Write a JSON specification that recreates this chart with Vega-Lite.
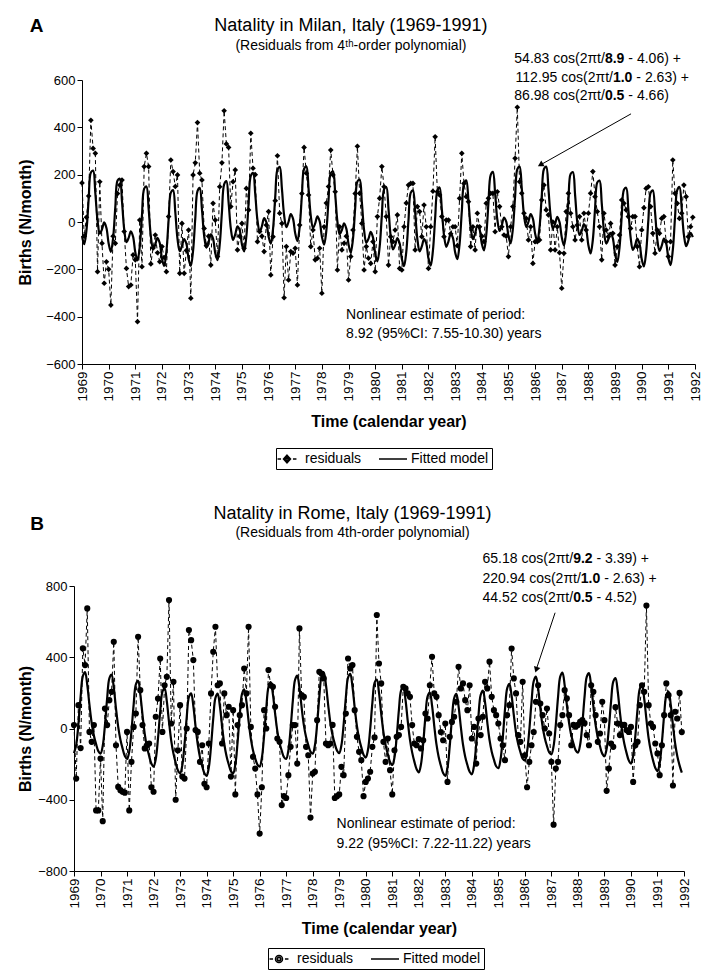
{
"$schema": "https://vega.github.io/schema/vega-lite/v6.json",
"padding": {"left": 17, "top": 17, "right": 5, "bottom": 5},
"spacing": 35,
"resolve": {"scale": {"shape": "independent"}, "legend": {"shape": "independent"}},
"config": {
 "font": "Liberation Sans",
 "view": {"stroke": null},
 "axis": {"grid": false, "domainColor": "black", "tickColor": "black", "labelColor": "black", "titleColor": "black", "labelFontSize": 13, "titleFontSize": 16, "titleFontWeight": "bold", "tickSize": 5, "labelPadding": 2, "labelOverlap": false},
 "axisX": {"labelOverlap": false},
 "axisQuantitative": {"labelOverlap": false},
 "legend": {"orient": "none", "direction": "horizontal", "strokeColor": "black", "strokeWidth": 1, "padding": 3, "labelFontSize": 14, "labelColor": "black", "symbolSize": 196, "symbolStrokeWidth": 1.5, "symbolStrokeColor": "black", "symbolOpacity": 1, "columnPadding": 14, "labelOffset": 10}
},
"datasets": {
"milan": [
{"t":1969,"r":165,"f":-59},{"t":1969.083,"r":-60,"f":-94},{"t":1969.167,"r":20,"f":-35},{"t":1969.25,"r":110,"f":96},{"t":1969.333,"r":430,"f":209},{"t":1969.417,"r":311,"f":217},{"t":1969.5,"r":290,"f":122},{"t":1969.583,"r":-210,"f":6},{"t":1969.667,"r":170,"f":-49},{"t":1969.75,"r":-90,"f":-31},{"t":1969.833,"r":-259,"f":-2},{"t":1969.917,"r":-168,"f":-25},
{"t":1970,"r":-200,"f":-91},{"t":1970.083,"r":-351,"f":-126},{"t":1970.167,"r":-60,"f":-68},{"t":1970.25,"r":-90,"f":63},{"t":1970.333,"r":120,"f":175},{"t":1970.417,"r":156,"f":183},{"t":1970.5,"r":177,"f":88},{"t":1970.583,"r":-40,"f":-30},{"t":1970.667,"r":-196,"f":-85},{"t":1970.75,"r":-273,"f":-67},{"t":1970.833,"r":-266,"f":-39},{"t":1970.917,"r":-139,"f":-62},
{"t":1971,"r":-160,"f":-128},{"t":1971.083,"r":-421,"f":-162},{"t":1971.167,"r":8,"f":-104},{"t":1971.25,"r":-189,"f":28},{"t":1971.333,"r":234,"f":141},{"t":1971.417,"r":290,"f":150},{"t":1971.5,"r":234,"f":56},{"t":1971.583,"r":-177,"f":-60},{"t":1971.667,"r":-110,"f":-114},{"t":1971.75,"r":-55,"f":-95},{"t":1971.833,"r":-130,"f":-67},{"t":1971.917,"r":-168,"f":-89},
{"t":1972,"r":-104,"f":-154},{"t":1972.083,"r":-150,"f":-186},{"t":1972.167,"r":-210,"f":-125},{"t":1972.25,"r":23,"f":9},{"t":1972.333,"r":262,"f":124},{"t":1972.417,"r":213,"f":135},{"t":1972.5,"r":150,"f":43},{"t":1972.583,"r":199,"f":-71},{"t":1972.667,"r":-217,"f":-123},{"t":1972.75,"r":-6,"f":-102},{"t":1972.833,"r":-217,"f":-72},{"t":1972.917,"r":-120,"f":-92},
{"t":1973,"r":-34,"f":-155},{"t":1973.083,"r":-322,"f":-185},{"t":1973.167,"r":199,"f":-122},{"t":1973.25,"r":250,"f":14},{"t":1973.333,"r":420,"f":130},{"t":1973.417,"r":206,"f":144},{"t":1973.5,"r":177,"f":54},{"t":1973.583,"r":-27,"f":-58},{"t":1973.667,"r":-100,"f":-108},{"t":1973.75,"r":-60,"f":-85},{"t":1973.833,"r":-182,"f":-52},{"t":1973.917,"r":79,"f":-70},
{"t":1974,"r":8,"f":-132},{"t":1974.083,"r":-146,"f":-161},{"t":1974.167,"r":149,"f":-96},{"t":1974.25,"r":250,"f":41},{"t":1974.333,"r":470,"f":159},{"t":1974.417,"r":330,"f":173},{"t":1974.5,"r":315,"f":84},{"t":1974.583,"r":65,"f":-27},{"t":1974.667,"r":170,"f":-76},{"t":1974.75,"r":220,"f":-52},{"t":1974.833,"r":-118,"f":-18},{"t":1974.917,"r":-60,"f":-34},
{"t":1975,"r":-6,"f":-94},{"t":1975.083,"r":-111,"f":-124},{"t":1975.167,"r":142,"f":-60},{"t":1975.25,"r":51,"f":77},{"t":1975.333,"r":375,"f":195},{"t":1975.417,"r":227,"f":208},{"t":1975.5,"r":200,"f":119},{"t":1975.583,"r":-83,"f":8},{"t":1975.667,"r":-40,"f":-41},{"t":1975.75,"r":-60,"f":-18},{"t":1975.833,"r":-125,"f":16},{"t":1975.917,"r":-13,"f":-1},
{"t":1976,"r":44,"f":-61},{"t":1976.083,"r":-224,"f":-92},{"t":1976.167,"r":-62,"f":-30},{"t":1976.25,"r":90,"f":105},{"t":1976.333,"r":280,"f":221},{"t":1976.417,"r":37,"f":233},{"t":1976.5,"r":-6,"f":142},{"t":1976.583,"r":-320,"f":29},{"t":1976.667,"r":-104,"f":-22},{"t":1976.75,"r":-245,"f":1},{"t":1976.833,"r":-125,"f":33},{"t":1976.917,"r":-132,"f":14},
{"t":1977,"r":-111,"f":-48},{"t":1977.083,"r":-266,"f":-81},{"t":1977.167,"r":-13,"f":-21},{"t":1977.25,"r":120,"f":111},{"t":1977.333,"r":315,"f":225},{"t":1977.417,"r":206,"f":235},{"t":1977.5,"r":114,"f":142},{"t":1977.583,"r":-104,"f":27},{"t":1977.667,"r":-34,"f":-26},{"t":1977.75,"r":-160,"f":-6},{"t":1977.833,"r":-153,"f":24},{"t":1977.917,"r":-111,"f":3},
{"t":1978,"r":-301,"f":-61},{"t":1978.083,"r":-20,"f":-96},{"t":1978.167,"r":80,"f":-38},{"t":1978.25,"r":150,"f":93},{"t":1978.333,"r":304,"f":206},{"t":1978.417,"r":199,"f":214},{"t":1978.5,"r":128,"f":119},{"t":1978.583,"r":-203,"f":2},{"t":1978.667,"r":-20,"f":-52},{"t":1978.75,"r":-118,"f":-34},{"t":1978.833,"r":-90,"f":-6},{"t":1978.917,"r":-60,"f":-28},
{"t":1979,"r":-245,"f":-94},{"t":1979.083,"r":-146,"f":-129},{"t":1979.167,"r":-34,"f":-72},{"t":1979.25,"r":120,"f":59},{"t":1979.333,"r":320,"f":171},{"t":1979.417,"r":121,"f":179},{"t":1979.5,"r":-6,"f":84},{"t":1979.583,"r":-203,"f":-33},{"t":1979.667,"r":-104,"f":-88},{"t":1979.75,"r":-153,"f":-70},{"t":1979.833,"r":-175,"f":-42},{"t":1979.917,"r":-83,"f":-65},
{"t":1980,"r":-210,"f":-132},{"t":1980.083,"r":23,"f":-166},{"t":1980.167,"r":100,"f":-106},{"t":1980.25,"r":234,"f":26},{"t":1980.333,"r":149,"f":138},{"t":1980.417,"r":23,"f":148},{"t":1980.5,"r":-182,"f":54},{"t":1980.583,"r":-62,"f":-62},{"t":1980.667,"r":-83,"f":-116},{"t":1980.75,"r":-34,"f":-97},{"t":1980.833,"r":30,"f":-68},{"t":1980.917,"r":-196,"f":-90},
{"t":1981,"r":-203,"f":-155},{"t":1981.083,"r":-20,"f":-187},{"t":1981.167,"r":80,"f":-126},{"t":1981.25,"r":156,"f":8},{"t":1981.333,"r":163,"f":123},{"t":1981.417,"r":163,"f":134},{"t":1981.5,"r":-118,"f":42},{"t":1981.583,"r":65,"f":-72},{"t":1981.667,"r":44,"f":-124},{"t":1981.75,"r":-62,"f":-103},{"t":1981.833,"r":72,"f":-72},{"t":1981.917,"r":-20,"f":-91},
{"t":1982,"r":-196,"f":-154},{"t":1982.083,"r":-20,"f":-184},{"t":1982.167,"r":130,"f":-121},{"t":1982.25,"r":360,"f":16},{"t":1982.333,"r":128,"f":132},{"t":1982.417,"r":114,"f":146},{"t":1982.5,"r":23,"f":56},{"t":1982.583,"r":-62,"f":-56},{"t":1982.667,"r":8,"f":-105},{"t":1982.75,"r":8,"f":-82},{"t":1982.833,"r":-50,"f":-49},{"t":1982.917,"r":-20,"f":-67},
{"t":1983,"r":-20,"f":-128},{"t":1983.083,"r":-100,"f":-157},{"t":1983.167,"r":100,"f":-93},{"t":1983.25,"r":290,"f":44},{"t":1983.333,"r":163,"f":162},{"t":1983.417,"r":107,"f":176},{"t":1983.5,"r":86,"f":88},{"t":1983.583,"r":-104,"f":-23},{"t":1983.667,"r":-20,"f":-72},{"t":1983.75,"r":-118,"f":-48},{"t":1983.833,"r":37,"f":-14},{"t":1983.917,"r":-20,"f":-31},
{"t":1984,"r":-60,"f":-91},{"t":1984.083,"r":-83,"f":-120},{"t":1984.167,"r":79,"f":-56},{"t":1984.25,"r":100,"f":80},{"t":1984.333,"r":121,"f":198},{"t":1984.417,"r":121,"f":212},{"t":1984.5,"r":-41,"f":122},{"t":1984.583,"r":128,"f":11},{"t":1984.667,"r":65,"f":-38},{"t":1984.75,"r":-20,"f":-15},{"t":1984.833,"r":-55,"f":19},{"t":1984.917,"r":-60,"f":2},
{"t":1985,"r":-146,"f":-59},{"t":1985.083,"r":-20,"f":-90},{"t":1985.167,"r":65,"f":-28},{"t":1985.25,"r":269,"f":107},{"t":1985.333,"r":485,"f":223},{"t":1985.417,"r":170,"f":234},{"t":1985.5,"r":121,"f":143},{"t":1985.583,"r":37,"f":30},{"t":1985.667,"r":15,"f":-21},{"t":1985.75,"r":-76,"f":1},{"t":1985.833,"r":-20,"f":33},{"t":1985.917,"r":-175,"f":14},
{"t":1986,"r":-83,"f":-48},{"t":1986.083,"r":-83,"f":-82},{"t":1986.167,"r":-76,"f":-22},{"t":1986.25,"r":93,"f":111},{"t":1986.333,"r":156,"f":224},{"t":1986.417,"r":51,"f":234},{"t":1986.5,"r":30,"f":141},{"t":1986.583,"r":-118,"f":26},{"t":1986.667,"r":0,"f":-27},{"t":1986.75,"r":-118,"f":-8},{"t":1986.833,"r":-20,"f":22},{"t":1986.917,"r":-130,"f":0},
{"t":1987,"r":-280,"f":-64},{"t":1987.083,"r":-132,"f":-99},{"t":1987.167,"r":44,"f":-41},{"t":1987.25,"r":121,"f":90},{"t":1987.333,"r":37,"f":203},{"t":1987.417,"r":-20,"f":211},{"t":1987.5,"r":-76,"f":116},{"t":1987.583,"r":-13,"f":-1},{"t":1987.667,"r":23,"f":-55},{"t":1987.75,"r":-76,"f":-37},{"t":1987.833,"r":37,"f":-9},{"t":1987.917,"r":-34,"f":-32},
{"t":1988,"r":37,"f":-98},{"t":1988.083,"r":121,"f":-133},{"t":1988.167,"r":213,"f":-75},{"t":1988.25,"r":107,"f":56},{"t":1988.333,"r":44,"f":167},{"t":1988.417,"r":-20,"f":175},{"t":1988.5,"r":-160,"f":81},{"t":1988.583,"r":37,"f":-36},{"t":1988.667,"r":-34,"f":-91},{"t":1988.75,"r":-62,"f":-73},{"t":1988.833,"r":-6,"f":-46},{"t":1988.917,"r":-48,"f":-69},
{"t":1989,"r":-182,"f":-135},{"t":1989.083,"r":-104,"f":-169},{"t":1989.167,"r":-55,"f":-109},{"t":1989.25,"r":93,"f":23},{"t":1989.333,"r":79,"f":136},{"t":1989.417,"r":51,"f":145},{"t":1989.5,"r":23,"f":51},{"t":1989.583,"r":-27,"f":-64},{"t":1989.667,"r":23,"f":-118},{"t":1989.75,"r":23,"f":-99},{"t":1989.833,"r":-104,"f":-70},{"t":1989.917,"r":-189,"f":-91},
{"t":1990,"r":-34,"f":-156},{"t":1990.083,"r":60,"f":-188},{"t":1990.167,"r":142,"f":-127},{"t":1990.25,"r":149,"f":8},{"t":1990.333,"r":65,"f":123},{"t":1990.417,"r":-48,"f":134},{"t":1990.5,"r":-132,"f":43},{"t":1990.583,"r":-34,"f":-71},{"t":1990.667,"r":-48,"f":-122},{"t":1990.75,"r":15,"f":-101},{"t":1990.833,"r":23,"f":-70},{"t":1990.917,"r":-83,"f":-90},
{"t":1991,"r":-146,"f":-152},{"t":1991.083,"r":-83,"f":-182},{"t":1991.167,"r":262,"f":-119},{"t":1991.25,"r":121,"f":18},{"t":1991.333,"r":79,"f":135},{"t":1991.417,"r":15,"f":148},{"t":1991.5,"r":37,"f":59},{"t":1991.583,"r":156,"f":-53},{"t":1991.667,"r":107,"f":-102},{"t":1991.75,"r":-62,"f":-79},{"t":1991.833,"r":-20,"f":-46},{"t":1991.917,"r":20,"f":-64}
],
"rome": [
{"t":1969,"r":19,"f":-138},{"t":1969.083,"r":-281,"f":-92},{"t":1969.167,"r":131,"f":26},{"t":1969.25,"r":-110,"f":179},{"t":1969.333,"r":450,"f":294},{"t":1969.417,"r":356,"f":317},{"t":1969.5,"r":674,"f":245},{"t":1969.583,"r":-19,"f":132},{"t":1969.667,"r":-75,"f":30},{"t":1969.75,"r":19,"f":-39},{"t":1969.833,"r":-460,"f":-88},{"t":1969.917,"r":-460,"f":-127},
{"t":1970,"r":-169,"f":-141},{"t":1970.083,"r":-520,"f":-98},{"t":1970.167,"r":112,"f":19},{"t":1970.25,"r":19,"f":169},{"t":1970.333,"r":159,"f":282},{"t":1970.417,"r":206,"f":302},{"t":1970.5,"r":487,"f":229},{"t":1970.583,"r":-94,"f":113},{"t":1970.667,"r":-328,"f":9},{"t":1970.75,"r":-346,"f":-63},{"t":1970.833,"r":-355,"f":-113},{"t":1970.917,"r":-360,"f":-155},
{"t":1971,"r":-19,"f":-171},{"t":1971.083,"r":-460,"f":-129},{"t":1971.167,"r":-187,"f":-13},{"t":1971.25,"r":9,"f":136},{"t":1971.333,"r":84,"f":248},{"t":1971.417,"r":515,"f":267},{"t":1971.5,"r":215,"f":192},{"t":1971.583,"r":19,"f":76},{"t":1971.667,"r":-112,"f":-30},{"t":1971.75,"r":-94,"f":-103},{"t":1971.833,"r":-84,"f":-154},{"t":1971.917,"r":-330,"f":-197},
{"t":1972,"r":-355,"f":-214},{"t":1972.083,"r":66,"f":-171},{"t":1972.167,"r":168,"f":-56},{"t":1972.25,"r":393,"f":94},{"t":1972.333,"r":-19,"f":206},{"t":1972.417,"r":243,"f":226},{"t":1972.5,"r":290,"f":152},{"t":1972.583,"r":721,"f":36},{"t":1972.667,"r":28,"f":-69},{"t":1972.75,"r":262,"f":-141},{"t":1972.833,"r":-400,"f":-192},{"t":1972.917,"r":-122,"f":-235},
{"t":1973,"r":131,"f":-252},{"t":1973.083,"r":-270,"f":-207},{"t":1973.167,"r":-281,"f":-89},{"t":1973.25,"r":0,"f":63},{"t":1973.333,"r":553,"f":177},{"t":1973.417,"r":496,"f":198},{"t":1973.5,"r":384,"f":126},{"t":1973.583,"r":-9,"f":12},{"t":1973.667,"r":-19,"f":-91},{"t":1973.75,"r":-187,"f":-162},{"t":1973.833,"r":-94,"f":-211},{"t":1973.917,"r":-310,"f":-251},
{"t":1974,"r":-330,"f":-266},{"t":1974.083,"r":-84,"f":-219},{"t":1974.167,"r":197,"f":-99},{"t":1974.25,"r":431,"f":55},{"t":1974.333,"r":571,"f":172},{"t":1974.417,"r":243,"f":196},{"t":1974.5,"r":253,"f":126},{"t":1974.583,"r":-84,"f":14},{"t":1974.667,"r":197,"f":-87},{"t":1974.75,"r":75,"f":-154},{"t":1974.833,"r":122,"f":-201},{"t":1974.917,"r":-270,"f":-239},
{"t":1975,"r":103,"f":-252},{"t":1975.083,"r":-370,"f":-202},{"t":1975.167,"r":19,"f":-80},{"t":1975.25,"r":75,"f":76},{"t":1975.333,"r":131,"f":194},{"t":1975.417,"r":337,"f":220},{"t":1975.5,"r":197,"f":152},{"t":1975.583,"r":571,"f":42},{"t":1975.667,"r":9,"f":-57},{"t":1975.75,"r":-159,"f":-123},{"t":1975.833,"r":-225,"f":-168},{"t":1975.917,"r":-370,"f":-203},
{"t":1976,"r":-590,"f":-214},{"t":1976.083,"r":-330,"f":-165},{"t":1976.167,"r":103,"f":-42},{"t":1976.25,"r":0,"f":115},{"t":1976.333,"r":328,"f":233},{"t":1976.417,"r":243,"f":260},{"t":1976.5,"r":234,"f":192},{"t":1976.583,"r":122,"f":83},{"t":1976.667,"r":-56,"f":-15},{"t":1976.75,"r":-75,"f":-81},{"t":1976.833,"r":-430,"f":-125},{"t":1976.917,"r":-380,"f":-161},
{"t":1977,"r":-390,"f":-171},{"t":1977.083,"r":-262,"f":-123},{"t":1977.167,"r":-103,"f":-1},{"t":1977.25,"r":19,"f":154},{"t":1977.333,"r":19,"f":272},{"t":1977.417,"r":-197,"f":297},{"t":1977.5,"r":562,"f":229},{"t":1977.583,"r":187,"f":118},{"t":1977.667,"r":178,"f":19},{"t":1977.75,"r":-103,"f":-48},{"t":1977.833,"r":-150,"f":-93},{"t":1977.917,"r":-500,"f":-130},
{"t":1978,"r":-253,"f":-141},{"t":1978.083,"r":-243,"f":-95},{"t":1978.167,"r":47,"f":24},{"t":1978.25,"r":318,"f":178},{"t":1978.333,"r":309,"f":293},{"t":1978.417,"r":281,"f":316},{"t":1978.5,"r":-84,"f":245},{"t":1978.583,"r":-94,"f":133},{"t":1978.667,"r":-84,"f":31},{"t":1978.75,"r":20,"f":-38},{"t":1978.833,"r":-390,"f":-86},{"t":1978.917,"r":-380,"f":-124},
{"t":1979,"r":-370,"f":-138},{"t":1979.083,"r":-215,"f":-94},{"t":1979.167,"r":-262,"f":23},{"t":1979.25,"r":84,"f":174},{"t":1979.333,"r":393,"f":286},{"t":1979.417,"r":337,"f":307},{"t":1979.5,"r":356,"f":234},{"t":1979.583,"r":103,"f":119},{"t":1979.667,"r":-47,"f":15},{"t":1979.75,"r":-131,"f":-56},{"t":1979.833,"r":-178,"f":-106},{"t":1979.917,"r":-380,"f":-147},
{"t":1980,"r":-300,"f":-163},{"t":1980.083,"r":-281,"f":-121},{"t":1980.167,"r":-243,"f":-5},{"t":1980.25,"r":-103,"f":144},{"t":1980.333,"r":-50,"f":256},{"t":1980.417,"r":637,"f":275},{"t":1980.5,"r":365,"f":201},{"t":1980.583,"r":253,"f":84},{"t":1980.667,"r":-75,"f":-21},{"t":1980.75,"r":-187,"f":-94},{"t":1980.833,"r":-56,"f":-145},{"t":1980.917,"r":-234,"f":-188},
{"t":1981,"r":-370,"f":-205},{"t":1981.083,"r":-122,"f":-163},{"t":1981.167,"r":-47,"f":-47},{"t":1981.25,"r":-37,"f":103},{"t":1981.333,"r":9,"f":214},{"t":1981.417,"r":234,"f":234},{"t":1981.5,"r":225,"f":160},{"t":1981.583,"r":197,"f":43},{"t":1981.667,"r":178,"f":-62},{"t":1981.75,"r":19,"f":-134},{"t":1981.833,"r":-84,"f":-186},{"t":1981.917,"r":-94,"f":-228},
{"t":1982,"r":-60,"f":-246},{"t":1982.083,"r":-112,"f":-201},{"t":1982.167,"r":-66,"f":-84},{"t":1982.25,"r":84,"f":67},{"t":1982.333,"r":56,"f":181},{"t":1982.417,"r":243,"f":202},{"t":1982.5,"r":403,"f":129},{"t":1982.583,"r":197,"f":15},{"t":1982.667,"r":178,"f":-89},{"t":1982.75,"r":75,"f":-160},{"t":1982.833,"r":-20,"f":-209},{"t":1982.917,"r":-66,"f":-250},
{"t":1983,"r":28,"f":-266},{"t":1983.083,"r":-300,"f":-219},{"t":1983.167,"r":-47,"f":-99},{"t":1983.25,"r":37,"f":55},{"t":1983.333,"r":66,"f":170},{"t":1983.417,"r":150,"f":194},{"t":1983.5,"r":346,"f":124},{"t":1983.583,"r":225,"f":12},{"t":1983.667,"r":253,"f":-90},{"t":1983.75,"r":159,"f":-158},{"t":1983.833,"r":103,"f":-205},{"t":1983.917,"r":243,"f":-243},
{"t":1984,"r":-56,"f":-257},{"t":1984.083,"r":9,"f":-208},{"t":1984.167,"r":-197,"f":-86},{"t":1984.25,"r":56,"f":70},{"t":1984.333,"r":-37,"f":188},{"t":1984.417,"r":66,"f":213},{"t":1984.5,"r":262,"f":145},{"t":1984.583,"r":225,"f":35},{"t":1984.667,"r":375,"f":-64},{"t":1984.75,"r":178,"f":-130},{"t":1984.833,"r":103,"f":-175},{"t":1984.917,"r":75,"f":-212},
{"t":1985,"r":28,"f":-223},{"t":1985.083,"r":-56,"f":-173},{"t":1985.167,"r":-94,"f":-51},{"t":1985.25,"r":-178,"f":106},{"t":1985.333,"r":75,"f":225},{"t":1985.417,"r":131,"f":251},{"t":1985.5,"r":449,"f":184},{"t":1985.583,"r":281,"f":75},{"t":1985.667,"r":197,"f":-24},{"t":1985.75,"r":-37,"f":-89},{"t":1985.833,"r":-75,"f":-133},{"t":1985.917,"r":262,"f":-169},
{"t":1986,"r":-150,"f":-179},{"t":1986.083,"r":-330,"f":-130},{"t":1986.167,"r":-187,"f":-9},{"t":1986.25,"r":-94,"f":147},{"t":1986.333,"r":-20,"f":265},{"t":1986.417,"r":150,"f":291},{"t":1986.5,"r":243,"f":223},{"t":1986.583,"r":140,"f":113},{"t":1986.667,"r":75,"f":13},{"t":1986.75,"r":0,"f":-53},{"t":1986.833,"r":112,"f":-98},{"t":1986.917,"r":-28,"f":-134},
{"t":1987,"r":-187,"f":-145},{"t":1987.083,"r":-540,"f":-99},{"t":1987.167,"r":-225,"f":21},{"t":1987.25,"r":-187,"f":175},{"t":1987.333,"r":19,"f":291},{"t":1987.417,"r":75,"f":314},{"t":1987.5,"r":215,"f":244},{"t":1987.583,"r":169,"f":132},{"t":1987.667,"r":75,"f":31},{"t":1987.75,"r":-94,"f":-38},{"t":1987.833,"r":20,"f":-85},{"t":1987.917,"r":10,"f":-123},
{"t":1988,"r":20,"f":-136},{"t":1988.083,"r":37,"f":-92},{"t":1988.167,"r":47,"f":25},{"t":1988.25,"r":30,"f":177},{"t":1988.333,"r":-37,"f":290},{"t":1988.417,"r":-94,"f":311},{"t":1988.5,"r":243,"f":239},{"t":1988.583,"r":206,"f":124},{"t":1988.667,"r":75,"f":20},{"t":1988.75,"r":-75,"f":-51},{"t":1988.833,"r":-28,"f":-100},{"t":1988.917,"r":150,"f":-141},
{"t":1989,"r":47,"f":-156},{"t":1989.083,"r":-350,"f":-114},{"t":1989.167,"r":-225,"f":2},{"t":1989.25,"r":-84,"f":151},{"t":1989.333,"r":-103,"f":263},{"t":1989.417,"r":120,"f":283},{"t":1989.5,"r":28,"f":209},{"t":1989.583,"r":-37,"f":92},{"t":1989.667,"r":20,"f":-13},{"t":1989.75,"r":20,"f":-86},{"t":1989.833,"r":-9,"f":-137},{"t":1989.917,"r":-19,"f":-179},
{"t":1990,"r":9,"f":-197},{"t":1990.083,"r":-300,"f":-154},{"t":1990.167,"r":-94,"f":-39},{"t":1990.25,"r":-75,"f":111},{"t":1990.333,"r":131,"f":223},{"t":1990.417,"r":243,"f":242},{"t":1990.5,"r":206,"f":167},{"t":1990.583,"r":690,"f":51},{"t":1990.667,"r":131,"f":-55},{"t":1990.75,"r":28,"f":-127},{"t":1990.833,"r":9,"f":-179},{"t":1990.917,"r":-84,"f":-221},
{"t":1991,"r":-140,"f":-239},{"t":1991.083,"r":-262,"f":-195},{"t":1991.167,"r":-94,"f":-78},{"t":1991.25,"r":75,"f":73},{"t":1991.333,"r":253,"f":186},{"t":1991.417,"r":187,"f":207},{"t":1991.5,"r":75,"f":134},{"t":1991.583,"r":-320,"f":19},{"t":1991.667,"r":94,"f":-85},{"t":1991.75,"r":56,"f":-157},{"t":1991.833,"r":200,"f":-207},{"t":1991.917,"r":-20,"f":-248}
]
},
"vconcat": [
{
 "width": 613, "height": 284,
 "encoding": {"x": {"field": "t", "type": "quantitative", "scale": {"domain": [1969, 1992], "nice": false, "zero": false},
   "axis": {"title": "Time (calendar year)", "values": [1969,1970,1971,1972,1973,1974,1975,1976,1977,1978,1979,1980,1981,1982,1983,1984,1985,1986,1987,1988,1989,1990,1991,1992], "format": "d", "labelAngle": -90, "labelFontSize": 13.5, "titlePadding": 12, "labelOverlap": false, "labelFlush": false}}},
 "layer": [
  {"data": {"name": "milan"},
   "mark": {"type": "line", "color": "black", "strokeWidth": 1, "strokeDash": [4, 3]},
   "encoding": {"y": {"field": "r", "type": "quantitative", "scale": {"domain": [-600, 600], "nice": false},
          "axis": {"title": "Births (N/month)", "values": [-600,-400,-200,0,200,400,600], "titlePadding": 12}}}},
  {"data": {"name": "milan"},
   "mark": {"type": "point", "shape": "diamond", "filled": true, "color": "black", "size": 32, "opacity": 1},
   "encoding": {"y": {"field": "r", "type": "quantitative"}}},
  {"data": {"name": "milan"},
   "mark": {"type": "line", "color": "black", "strokeWidth": 2.2, "interpolate": "catmull-rom"},
   "encoding": {"y": {"field": "f", "type": "quantitative"}}},
  {"data": {"values": [{"t": 1979.09, "v": 828, "s": "Natality in Milan, Italy (1969-1991)"}]},
   "mark": {"type": "text", "align": "center", "baseline": "middle", "fontSize": 18, "color": "black"},
   "encoding": {"y": {"field": "v", "type": "quantitative"}, "text": {"field": "s"}}},
  {"data": {"values": [{"t": 1979.09, "v": 744, "s": "(Residuals from 4ᵗʰ-order polynomial)"}]},
   "mark": {"type": "text", "align": "center", "baseline": "middle", "fontSize": 14, "color": "black"},
   "encoding": {"y": {"field": "v", "type": "quantitative"}, "text": {"field": "s"}}},
  {"data": {"values": [
     {"t": 1988.62, "v": 689, "s": "54.83 cos(2πt/"},
     {"t": 1988.92, "v": 608, "s": "112.95 cos(2πt/"},
     {"t": 1988.62, "v": 532, "s": "86.98 cos(2πt/"}]},
   "mark": {"type": "text", "align": "right", "baseline": "middle", "fontSize": 14, "color": "black"},
   "encoding": {"y": {"field": "v", "type": "quantitative"}, "text": {"field": "s"}}},
  {"data": {"values": [
     {"t": 1988.62, "v": 689, "s": "8.9"},
     {"t": 1988.92, "v": 608, "s": "1.0"},
     {"t": 1988.62, "v": 532, "s": "0.5"}]},
   "mark": {"type": "text", "align": "left", "baseline": "middle", "fontSize": 14, "fontWeight": "bold", "color": "black"},
   "encoding": {"y": {"field": "v", "type": "quantitative"}, "text": {"field": "s"}}},
  {"data": {"values": [
     {"t": 1989.5, "v": 689, "s": "- 4.06) +"},
     {"t": 1989.8, "v": 608, "s": "- 2.63) +"},
     {"t": 1989.5, "v": 532, "s": "- 4.66)"},
     {"t": 1978.91, "v": -394, "s": "Nonlinear estimate of period:"},
     {"t": 1978.91, "v": -474, "s": "8.92 (95%CI: 7.55-10.30) years"}]},
   "mark": {"type": "text", "align": "left", "baseline": "middle", "fontSize": 14, "color": "black"},
   "encoding": {"y": {"field": "v", "type": "quantitative"}, "text": {"field": "s"}}},
  {"data": {"values": [{"t": 1967.04, "v": 828, "s": "A"}]},
   "mark": {"type": "text", "align": "left", "baseline": "middle", "fontSize": 19, "fontWeight": "bold", "color": "black"},
   "encoding": {"y": {"field": "v", "type": "quantitative"}, "text": {"field": "s"}}},
  {"data": {"values": [{"t": 1989.6, "v": 457, "t2": 1986.15, "v2": 238}]},
   "mark": {"type": "rule", "color": "black", "strokeWidth": 1},
   "encoding": {"y": {"field": "v", "type": "quantitative"}, "x2": {"field": "t2"}, "y2": {"field": "v2"}}},
  {"data": {"values": [{"t": 1986.2, "v": 242}]},
   "mark": {"type": "point", "shape": "triangle-up", "filled": true, "color": "black", "size": 45, "angle": 240.5, "opacity": 1},
   "encoding": {"y": {"field": "v", "type": "quantitative"}}},
  {"data": {"values": [{"series": "residuals"}, {"series": "Fitted model"}]},
   "mark": {"type": "point", "filled": false, "color": "black", "strokeWidth": 1.5, "opacity": 0},
   "encoding": {"shape": {"field": "series", "type": "nominal",
     "scale": {"domain": ["residuals", "Fitted model"], "range": ["M-1.35,0H-0.85M0.85,0H1.35M0,-0.55L0.5,0L0,0.55L-0.5,0ZM0,-0.3L0.27,0L0,0.3L-0.27,0ZM-0.1,0H0.1", "M-2,0H2"]},
     "legend": {"title": null, "legendX": 194, "legendY": 368, "symbolStrokeColor": "black", "symbolStrokeWidth": 1.5}}}}
 ]
},
{
 "width": 610, "height": 285,
 "encoding": {"x": {"field": "t", "type": "quantitative", "scale": {"domain": [1969, 1992], "nice": false, "zero": false, "range": [-8, 602]},
   "axis": {"title": "Time (calendar year)", "values": [1969,1970,1971,1972,1973,1974,1975,1976,1977,1978,1979,1980,1981,1982,1983,1984,1985,1986,1987,1988,1989,1990,1991,1992], "format": "d", "labelAngle": -90, "labelFontSize": 13.5, "titlePadding": 12, "labelOverlap": false, "labelFlush": false}}},
 "layer": [
  {"data": {"name": "rome"},
   "mark": {"type": "line", "color": "black", "strokeWidth": 1, "strokeDash": [4, 3]},
   "encoding": {"y": {"field": "r", "type": "quantitative", "scale": {"domain": [-800, 800], "nice": false},
          "axis": {"title": "Births (N/month)", "values": [-800,-600,-400,-200,0,200,400,600,800], "titlePadding": 4, "offset": 8}}}},
  {"data": {"name": "rome"},
   "mark": {"type": "point", "shape": "circle", "filled": true, "color": "black", "size": 38, "opacity": 1},
   "encoding": {"y": {"field": "r", "type": "quantitative"}}},
  {"data": {"name": "rome"},
   "mark": {"type": "line", "color": "black", "strokeWidth": 2.2, "interpolate": "catmull-rom"},
   "encoding": {"y": {"field": "f", "type": "quantitative"}}},
  {"data": {"values": [{"t": 1979.5, "v": 1204, "s": "Natality in Rome, Italy (1969-1991)"}]},
   "mark": {"type": "text", "align": "center", "baseline": "middle", "fontSize": 18, "color": "black"},
   "encoding": {"y": {"field": "v", "type": "quantitative"}, "text": {"field": "s"}}},
  {"data": {"values": [{"t": 1979.5, "v": 1098, "s": "(Residuals from 4th-order polynomial)"}]},
   "mark": {"type": "text", "align": "center", "baseline": "middle", "fontSize": 14, "color": "black"},
   "encoding": {"y": {"field": "v", "type": "quantitative"}, "text": {"field": "s"}}},
  {"data": {"values": [
     {"t": 1987.82, "v": 952, "s": "65.18 cos(2πt/"},
     {"t": 1988.11, "v": 839, "s": "220.94 cos(2πt/"},
     {"t": 1987.82, "v": 733, "s": "44.52 cos(2πt/"}]},
   "mark": {"type": "text", "align": "right", "baseline": "middle", "fontSize": 14, "color": "black"},
   "encoding": {"y": {"field": "v", "type": "quantitative"}, "text": {"field": "s"}}},
  {"data": {"values": [
     {"t": 1987.82, "v": 952, "s": "9.2"},
     {"t": 1988.11, "v": 839, "s": "1.0"},
     {"t": 1987.82, "v": 733, "s": "0.5"}]},
   "mark": {"type": "text", "align": "left", "baseline": "middle", "fontSize": 14, "fontWeight": "bold", "color": "black"},
   "encoding": {"y": {"field": "v", "type": "quantitative"}, "text": {"field": "s"}}},
  {"data": {"values": [
     {"t": 1988.7, "v": 952, "s": "- 3.39) +"},
     {"t": 1988.99, "v": 839, "s": "- 2.63) +"},
     {"t": 1988.7, "v": 733, "s": "- 4.52)"},
     {"t": 1978.9, "v": -536, "s": "Nonlinear estimate of period:"},
     {"t": 1978.9, "v": -648, "s": "9.22 (95%CI: 7.22-11.22) years"}]},
   "mark": {"type": "text", "align": "left", "baseline": "middle", "fontSize": 14, "color": "black"},
   "encoding": {"y": {"field": "v", "type": "quantitative"}, "text": {"field": "s"}}},
  {"data": {"values": [{"t": 1967.35, "v": 1148, "s": "B"}]},
   "mark": {"type": "text", "align": "left", "baseline": "middle", "fontSize": 19, "fontWeight": "bold", "color": "black"},
   "encoding": {"y": {"field": "v", "type": "quantitative"}, "text": {"field": "s"}}},
  {"data": {"values": [{"t": 1987.14, "v": 650, "t2": 1986.41, "v2": 323}]},
   "mark": {"type": "rule", "color": "black", "strokeWidth": 1},
   "encoding": {"y": {"field": "v", "type": "quantitative"}, "x2": {"field": "t2"}, "y2": {"field": "v2"}}},
  {"data": {"values": [{"t": 1986.43, "v": 330}]},
   "mark": {"type": "point", "shape": "triangle-up", "filled": true, "color": "black", "size": 45, "angle": 198.4, "opacity": 1},
   "encoding": {"y": {"field": "v", "type": "quantitative"}}},
  {"data": {"values": [{"series": "residuals"}, {"series": "Fitted model"}]},
   "mark": {"type": "point", "filled": false, "color": "black", "strokeWidth": 1.5, "opacity": 0},
   "encoding": {"shape": {"field": "series", "type": "nominal",
     "scale": {"domain": ["residuals", "Fitted model"], "range": ["M-1.35,0H-0.85M0.85,0H1.35M-0.5,0A0.5,0.5 0 1,0 0.5,0A0.5,0.5 0 1,0 -0.5,0ZM-0.25,0A0.25,0.25 0 1,0 0.25,0A0.25,0.25 0 1,0 -0.25,0ZM-0.05,0H0.05", "M-2,0H2"]},
     "legend": {"title": null, "legendX": 186, "legendY": 362, "symbolStrokeColor": "black", "symbolStrokeWidth": 1.5}}}}
 ]
}
]
}
